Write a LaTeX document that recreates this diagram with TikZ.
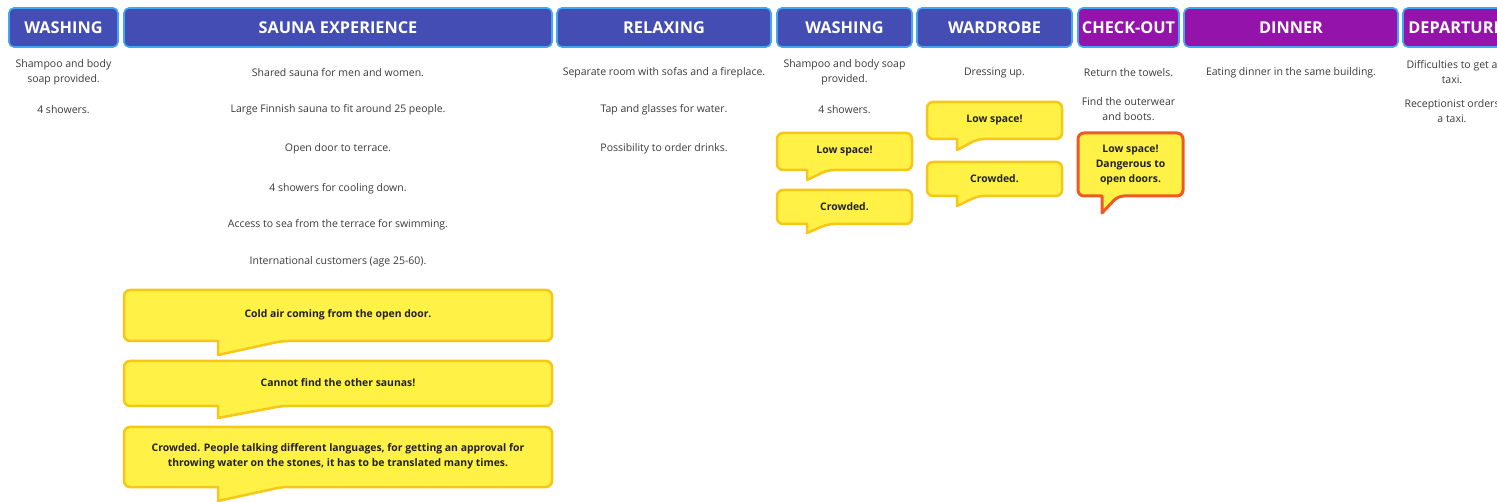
\documentclass[tikz,border=0pt]{standalone}
\usepackage{fontspec}
\setmainfont{Open Sans}
\definecolor{hdrblue}{HTML}{434DB3}
\definecolor{hdrpurple}{HTML}{9413AB}
\definecolor{hdredge}{HTML}{42A5F5}
\definecolor{bodytext}{HTML}{3A3A3A}
\definecolor{noteyellow}{HTML}{FFF145}
\definecolor{noteedge}{HTML}{F6C717}
\definecolor{alertedge}{HTML}{EE5A24}
\definecolor{notetextcol}{HTML}{222222}

\tikzset{
  hdr/.style={draw=hdredge, line width=1.6pt, rounded corners=5pt, text=white,
    font=\bfseries\fontsize{16.3}{19}\selectfont, minimum height=39pt, inner sep=0pt},
  body/.style={text=bodytext, font=\fontsize{10.5}{15}\selectfont, align=center, inner sep=0pt},
  bubble/.style={draw=noteedge, fill=noteyellow, line width=2.5pt, line join=round},
  alertbubble/.style={draw=alertedge, fill=noteyellow, line width=3pt, line join=round},
  notetext/.style={text=notetextcol, font=\bfseries\fontsize{10.4}{15}\selectfont, align=center, inner sep=0pt}
}

% speech bubble: style, x1, y1, x2, y2, tail left, tail right, tail tip
\newcommand\bubbleshape[8]{%
  \path[#1] (#2,{#3+12}) [rounded corners=6pt] -- (#2,#3) -- (#4,#3) -- (#4,#5) -- (#7,#5)
    [sharp corners] -- (#6,#8) -- (#6,#5) [rounded corners=6pt] -- (#2,#5) -- cycle;}

\begin{document}
\begin{tikzpicture}[x=1pt, y=-1pt]
\useasboundingbox (0,0) rectangle (1497,502);
\clip (0,0) rectangle (1497,502);

% phase headers
\node[hdr, fill=hdrblue, minimum width=109pt] (hWash) at (63.5,27.5) {WASHING};
\node[hdr, fill=hdrblue, minimum width=428pt] (hSauna) at (338,27.5) {SAUNA EXPERIENCE};
\node[hdr, fill=hdrblue, minimum width=214pt] (hRelax) at (664,27.5) {RELAXING};
\node[hdr, fill=hdrblue, minimum width=135pt] (hWashB) at (844.5,27.5) {WASHING};
\node[hdr, fill=hdrblue, minimum width=155pt] (hWard) at (994.5,27.5) {WARDROBE};
\node[hdr, fill=hdrpurple, minimum width=101pt] (hCheck) at (1128.5,27.5) {CHECK-OUT};
\node[hdr, fill=hdrpurple, minimum width=214pt] (hDinner) at (1291,27.5) {DINNER};
\node[hdr, fill=hdrpurple, minimum width=105pt] (hDepart) at (1455.5,27.5) {DEPARTURE};

% observations
\node[body] (wa1) at (63.5,72) {Shampoo and body\\soap provided.};
\node[body] (wa2) at (63.5,109.5) {4 showers.};

\node[body] (sa1) at (338,72.5) {Shared sauna for men and women.};
\node[body] (sa2) at (338,109.5) {Large Finnish sauna to fit around 25 people.};
\node[body] (sa3) at (338,148.5) {Open door to terrace.};
\node[body] (sa4) at (338,188.5) {4 showers for cooling down.};
\node[body] (sa5) at (338,224.5) {Access to sea from the terrace for swimming.};
\node[body] (sa6) at (338,261.5) {International customers (age 25-60).};

\node[body] (re1) at (664,72.5) {Separate room with sofas and a fireplace.};
\node[body] (re2) at (664,109.5) {Tap and glasses for water.};
\node[body] (re3) at (664,148.5) {Possibility to order drinks.};

\node[body] (wb1) at (844.5,72) {Shampoo and body soap\\provided.};
\node[body] (wb2) at (844.5,109.5) {4 showers.};

\node[body] (wr1) at (994.5,72.5) {Dressing up.};

\node[body] (co1) at (1128.5,72.5) {Return the towels.};
\node[body] (co2) at (1128.5,109) {Find the outerwear\\and boots.};

\node[body] (di1) at (1291,72.5) {Eating dinner in the same building.};

\node[body] (de1) at (1452,72) {Difficulties to get a\\taxi.};
\node[body] (de2) at (1452,111.5) {Receptionist orders\\a taxi.};

% pain points
\bubbleshape{bubble}{124}{290}{552}{341}{218}{282}{355}
\node[notetext] (pS1) at (338,315) {Cold air coming from the open door.};
\bubbleshape{bubble}{124}{361}{552}{406}{218}{282}{418}
\node[notetext] (pS2) at (338,383) {Cannot find the other saunas!};
\bubbleshape{bubble}{124}{427}{552}{487}{218}{282}{501}
\node[notetext] (pS3) at (338,456.5) {Crowded. People talking different languages, for getting an approval for\\throwing water on the stones, it has to be translated many times.};

\bubbleshape{bubble}{777}{133}{912}{170}{807}{828}{180}
\node[notetext] (pW1) at (844.5,151.5) {Low space!};
\bubbleshape{bubble}{777}{190}{912}{224}{807}{828}{233}
\node[notetext] (pW2) at (844.5,207) {Crowded.};

\bubbleshape{bubble}{927}{102}{1062}{139}{957}{978}{150}
\node[notetext] (pR1) at (994.5,120.5) {Low space!};
\bubbleshape{bubble}{927}{162}{1062}{196}{957}{978}{206}
\node[notetext] (pR2) at (994.5,179) {Crowded.};

\bubbleshape{alertbubble}{1078}{133}{1183}{196}{1102}{1118}{213}
\node[notetext] (pC1) at (1130.5,165) {Low space!\\Dangerous to\\open doors.};
\end{tikzpicture}
\end{document}
